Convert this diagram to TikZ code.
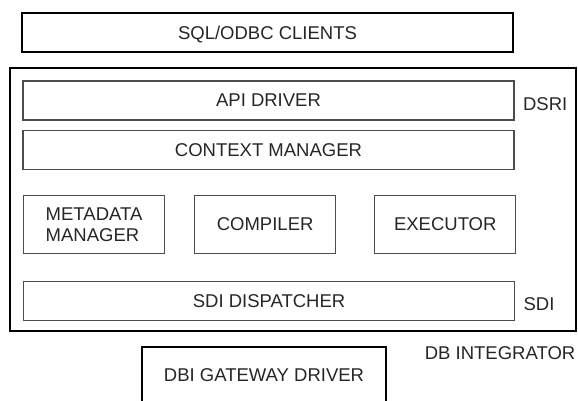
\documentclass[tikz,border=0pt]{standalone}
\usepackage{fontspec}
\setmainfont{Liberation Sans}
\usetikzlibrary{positioning}

\begin{document}
\begin{tikzpicture}
	[x=1pt,y=-1pt,font=\fontsize{18.5}{20.5}\selectfont,text=black!85,
		thick box/.style={draw=black,line width=1.8pt,inner sep=0pt,text depth=0pt},
		thin box/.style={draw=black!70,line width=1.1pt,inner sep=0pt},
		wide box/.style={thin box,text depth=0pt,minimum width=491pt,minimum height=39pt},
		unit box/.style={thin box,minimum width=141pt,minimum height=58pt,align=left}]

	\path[use as bounding box,clip] (0,0) rectangle (578,401);

	\node[thick box,minimum width=491pt,minimum height=39pt] (sql) at (267.5,32.7) {SQL/ODBC CLIENTS};
	\node[draw=black,line width=1.6pt,minimum width=566pt,minimum height=263pt] (dbint) at (293,199.5) {};

	\node[wide box] (api) at (268.5,100.5) {API DRIVER};
	\node[wide box] [below=9pt of api] (ctx) {CONTEXT MANAGER};
	\node[unit box,anchor=north west] (meta) at (23,195) {METADATA\\MANAGER};
	\node[unit box] [right=29pt of meta] (comp) {COMPILER};
	\node[unit box] [right=38pt of comp] (exec) {EXECUTOR};
	\node[wide box,anchor=north west] (sdi) at ([yshift=-27pt]meta.south west) {SDI DISPATCHER};

	\node[right=5pt of api,yshift=-3.5pt] (dsri) {DSRI};
	\node[right=5pt of sdi,yshift=-3pt] (sdilabel) {SDI};
	\node[below=11pt of dbint.south east,anchor=north east,xshift=2pt] (dbilabel) {DB INTEGRATOR};

	% open at the bottom, runs off the page
	\node[thick box,text depth=6pt,minimum width=244pt,minimum height=62pt,anchor=north] (gw) at (264,346) {DBI GATEWAY DRIVER};

\end{tikzpicture}
\end{document}
